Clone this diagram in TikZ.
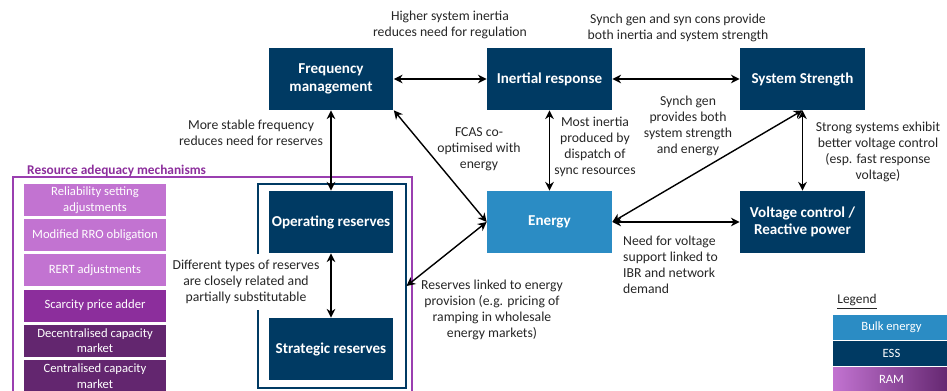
\documentclass[tikz,border=0pt]{standalone}
\usepackage{fontspec}
\setmainfont{Carlito}
\usetikzlibrary{arrows.meta}

\definecolor{essblue}{HTML}{003A63}
\definecolor{bulkblue}{HTML}{2B8CC4}
\definecolor{ramlight}{HTML}{C273D1}
\definecolor{rammid}{HTML}{8C2E9C}
\definecolor{ramdark}{HTML}{63266F}
\definecolor{ramline}{HTML}{9A3FB0}

\tikzset{
  ess/.style={fill=essblue, text=white, font=\fontsize{8.6}{10}\selectfont\bfseries,
    align=center, minimum width=2.5cm, minimum height=1.24cm, inner sep=0pt},
  bulk/.style={ess, fill=bulkblue},
  rambox/.style={text=white, font=\fontsize{7.2}{8.8}\selectfont, align=center,
    minimum width=2.84cm, minimum height=0.64cm, inner sep=0pt},
  legendbox/.style={text=white, font=\fontsize{7.2}{8.8}\selectfont,
    minimum width=2.34cm, minimum height=0.5cm, inner sep=0pt},
  note/.style={font=\fontsize{7.8}{9.1}\selectfont, align=center, text=black!85},
  link/.style={<->, thick}
}

\begin{document}
\begin{tikzpicture}[x=0.02cm, y=-0.02cm, >={Stealth[length=5pt,width=5pt]}]
  \useasboundingbox (0,0) rectangle (947,391);

  % services
  \node[ess] (fm) at (331,79) {Frequency\\management};
  \node[ess] (inertia) at (549.5,79) {Inertial response};
  \node[ess] (strength) at (802.5,79) {System Strength};
  \node[bulk] (energy) at (549.5,222) {Energy};
  \node[ess] (voltage) at (802.5,222) {Voltage control /\\Reactive power};
  \node[ess] (opres) at (331,222) {Operating reserves};
  \node[ess] (stratres) at (331,349) {Strategic reserves};
  \node[draw=essblue, line width=0.6pt, minimum width=2.96cm, minimum height=4.08cm] (resframe) at (332,286) {};

  % resource adequacy mechanisms
  \draw[ramline, line width=0.6pt] (13,177) rectangle (412,400);
  \node[anchor=west, text=rammid, font=\fontsize{7.6}{9}\selectfont\bfseries] (ramtitle) at (21,171) {Resource adequacy mechanisms};
  \foreach \i/\txt/\col in {0/{Reliability setting\\adjustments}/ramlight,
                            1/{Modified RRO obligation}/ramlight,
                            2/{RERT adjustments}/ramlight,
                            3/{Scarcity price adder}/rammid,
                            4/{Decentralised capacity\\market}/ramdark,
                            5/{Centralised capacity\\market}/ramdark} {
    \node[rambox, fill=\col] (ram\i) at (95,200+35.2*\i) {\txt};
  }

  % links
  \draw[link] (fm) -- (inertia);
  \draw[link] (inertia) -- (strength);
  \draw[link] (fm) -- (opres);
  \draw[link] (fm.south east) -- (energy.west);
  \draw[link] (inertia) -- (energy);
  \draw[link] (energy.east) -- (strength.south);
  \draw[link] (strength) -- (voltage);
  \draw[link] (energy) -- (voltage);
  \draw[link] (opres) -- (stratres);
  \draw[link] (resframe.east) -- (energy.west);

  % notes
  \node[note] (notefi) at (450,25) {Higher system inertia\\reduces need for regulation};
  \node[note] (noteis) at (678,28) {Synch gen and syn cons provide\\both inertia and system strength};
  \node[note] (notefo) at (251,133) {More stable frequency\\reduces need for reserves};
  \node[note] (notefe) at (479,149) {FCAS co-\\optimised with\\energy};
  \node[note] (noteie) at (595,147) {Most inertia\\produced by\\dispatch of\\sync resources};
  \node[note] (notese) at (688,126) {Synch gen\\provides both\\system strength\\and energy};
  \node[note] (notesv) at (878,152) {Strong systems exhibit\\better voltage control\\(esp. fast response\\voltage)};
  \node[note, align=left, anchor=west] (noteev) at (617,264.5) {Need for voltage\\support linked to\\IBR and network\\demand};
  \node[note] (notere) at (492,310) {Reserves linked to energy\\provision (e.g. pricing of\\ramping in wholesale\\energy markets)};
  \node[note, fill=white] (noteos) at (246,282) {Different types of reserves\\are closely related and\\partially substitutable};

  % legend
  \node[font=\fontsize{7.6}{9}\selectfont, text=black!85] (legendtitle) at (857,302) {\underline{Legend}};
  \node[legendbox, fill=bulkblue] (lgbulk) at (891.5,327.5) {Bulk energy};
  \node[legendbox, fill=essblue] (lgess) at (891.5,353.5) {ESS};
  \node[legendbox, left color=ramlight, right color=ramdark] (lgram) at (891.5,379.5) {RAM};
\end{tikzpicture}
\end{document}
